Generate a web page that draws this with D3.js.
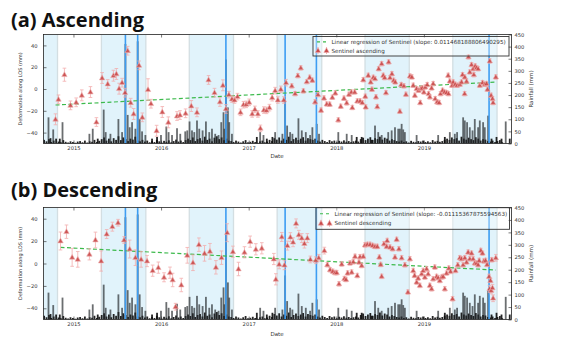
<!DOCTYPE html>
<html><head><meta charset="utf-8">
<script src="https://cdn.jsdelivr.net/npm/d3@7"></script>
<style>body{margin:0;background:#fff}svg{display:block}</style>
</head><body><svg id="c" width="573" height="338"></svg>
<script>
// ---------- data (time in decimal years) ----------
const yearTicks=[2015,2016,2017,2018,2019];
const leftTicks=[-40,-20,0,20,40];
const rightTicks=[0,50,100,150,200,250,300,350,400,450];
const wetSeasons=[[2014.33,2014.818],[2015.319,2015.826],[2016.322,2016.827],[2017.325,2017.834],[2018.328,2018.833],[2019.33,2019.835]];
const stormDates=[2015.593,2015.733,2016.740,2017.416,2017.773,2019.744];
// rainfall peaks [year, mm]
const rainPeaks=[[2014.715,108],[2014.738,22],[2014.769,58],[2014.844,20],[2014.875,88],[2015.182,40],[2015.220,61],[2015.277,20],
[2015.345,140],[2015.368,47],[2015.422,40],[2015.513,101],[2015.555,47],[2015.593,411],[2015.619,118],[2015.642,67],[2015.669,88],
[2015.707,61],[2015.733,422],[2015.756,101],[2015.783,50],[2015.821,35],[2015.897,20],[2015.954,27],[2015.999,35],[2016.060,70],
[2016.086,47],[2016.125,35],[2016.182,63],[2016.219,40],[2016.276,50],[2016.299,54],[2016.325,91],[2016.353,54],[2016.379,47],
[2016.410,95],[2016.436,61],[2016.474,54],[2016.512,91],[2016.550,47],[2016.581,61],[2016.618,40],[2016.656,35],[2016.687,88],
[2016.713,129],[2016.724,61],[2016.740,347],[2016.763,149],[2016.778,88],[2016.809,40],[2017.093,27],[2017.131,47],[2017.169,35],
[2017.207,20],[2017.271,27],[2017.302,47],[2017.385,40],[2017.416,177],[2017.439,74],[2017.473,47],[2017.499,40],[2017.568,104],
[2017.606,54],[2017.652,47],[2017.701,35],[2017.727,67],[2017.777,81],[2017.803,40],[2018.023,47],[2018.119,40],[2018.176,35],
[2018.233,27],[2018.290,27],[2018.404,15],[2018.442,74],[2018.479,47],[2018.518,35],[2018.593,47],[2018.632,54],[2018.670,67],
[2018.707,61],[2018.726,61],[2018.746,81],[2018.764,58],[2018.783,47],[2018.917,35],[2019.163,35],[2019.239,27],[2019.296,47],
[2019.353,40],[2019.379,47],[2019.448,108],[2019.467,95],[2019.493,88],[2019.524,67],[2019.555,54],[2019.581,101],[2019.619,67],
[2019.638,95],[2019.676,88],[2019.695,67],[2019.733,115],[2019.772,20],[2019.829,27],[2019.886,20],[2019.934,91],[2019.980,20]];
// background rainfall, one value every 10 days from rainBaseStart
const rainBaseStart=2014.665, rainBaseStepDays=10;
const rainBase=[15,9,18,6,12,20,8,5,14,7,4,9,
6,3,8,10,5,12,4,9,7,15,6,11,
18,25,12,20,9,22,15,30,14,25,18,10,20,16,28,12,9,15,
8,12,5,10,6,15,9,4,11,7,13,5,10,16,8,12,6,14,
20,14,25,10,18,22,12,28,15,20,9,24,30,18,25,14,20,12,
10,6,12,8,4,9,14,5,7,11,6,3,9,12,5,8,15,10,
22,16,25,12,20,15,28,10,18,24,14,20,26,12,22,18,15,20,
12,8,15,10,6,14,9,12,5,11,8,13,7,10,6,9,12,8,
18,24,14,20,26,15,22,18,28,16,24,20,12,18,14,10,8,12,
6,9,4,11,7,5,10,8,12,6,9,5,14,8,11,7,10,15,
20,15,25,18,22,12,28,20,16,24,18,14,26,20,12,18,16,10,
8,12,6,10,14,5];
// Sentinel ascending [year, LOS mm, error mm]
const ascData=[[2014.795,-27.8,5],[2014.829,-9.5,4],[2014.897,13.1,6],[2014.966,-15,4],[2015.031,-12.2,4],[2015.095,-5.8,5],[2015.194,-2.8,5],
[2015.262,-30.3,4],[2015.327,10.1,5],[2015.391,4.6,4],[2015.456,12.2,5],[2015.490,13.8,5],[2015.521,0.3,5],[2015.555,5.8,4],[2015.589,-3.4,4],
[2015.619,35.1,4],[2015.653,-12.6,4],[2015.687,-22.9,5],[2015.749,21.7,4],[2015.786,-26,4],[2015.851,-0.6,10],[2015.885,-13.5,4],
[2015.949,-38.3,5],[2016.014,-21.1,5],[2016.083,-30.6,5],[2016.182,-24.8,4],[2016.216,-23.9,4],[2016.280,-22.3,4],[2016.345,-15.6,5],
[2016.410,-21.4,4],[2016.542,8.3,4],[2016.610,-3.4,4],[2016.672,-11.9,4],[2016.706,3.4,5],[2016.740,-18.3,4],[2016.774,-5.2,3],
[2016.809,-9.2,3],[2016.838,-10.1,3],[2016.872,-7,3],[2016.907,-21.4,3],[2016.941,-14.4,3],[2016.972,-14.1,3],[2017.006,-12.2,3],
[2017.040,-22.9,3],[2017.071,-18.7,3],[2017.105,-22.9,3],[2017.134,-36.1,3],[2017.173,-19.3,3],[2017.203,-19.6,3],[2017.237,-17.1,3],
[2017.268,-8,3],[2017.302,-1.5,3],[2017.333,-10.1,3],[2017.367,-0.3,3],[2017.401,-10.1,3],[2017.427,5.8,3],
[2017.492,2.8,2],[2017.530,-4.3,2],[2017.561,12.2,2],[2017.595,19.3,2],[2017.624,-1.8,2],[2017.663,6.7,2],[2017.697,10.7,2],[2017.727,8,2],
[2017.758,-11.9,2],[2017.792,-5.2,2],[2017.826,-19.5,2],[2017.860,-8.3,2],[2017.891,-13.8,2],[2017.925,-14,2],[2017.955,-7.6,2],
[2017.989,-3.7,2],[2018.023,-28.4,2],[2018.051,-15.9,2],[2018.088,-8.5,2],[2018.119,-12.8,2],[2018.145,-4.9,2],[2018.172,-2.8,2],
[2018.183,-17,2],[2018.210,-2.8,2],[2018.240,-11,2],[2018.271,-11,2],[2018.297,-12.5,2],[2018.308,8.5,2],[2018.331,-6.7,2],[2018.336,-16.5,2],
[2018.365,12.5,2],[2018.393,6.4,2],[2018.407,-0.3,2],[2018.422,10.7,2],[2018.442,9.5,2],[2018.453,-7.3,2],[2018.468,-16.2,2],[2018.484,18.6,2],
[2018.518,23.2,2],[2018.536,12.5,2],[2018.552,10.4,2],[2018.567,-3.4,2],[2018.598,24.8,2],[2018.613,10.4,2],[2018.635,14,2],[2018.655,8,2],
[2018.673,6.4,2],[2018.726,-20.5,2],[2018.741,4,2],[2018.772,2.8,2],[2018.795,-4.9,2],[2018.840,11.9,2],[2018.863,11,2],[2018.878,3.4,2],
[2018.897,-5.8,2],[2018.917,0.3,2],[2018.940,-1.2,2],[2018.958,-12.5,2],[2018.965,0.3,2],[2018.981,0.9,2],[2019.000,-2.8,2],[2019.015,1.8,2],
[2019.038,4,2],[2019.054,-4.3,2],[2019.068,-7.3,2],[2019.088,0.9,2],[2019.106,4.9,2],[2019.129,-8.9,2],[2019.151,-11.9,2],[2019.174,-12.5,2],
[2019.190,-4.3,2],[2019.213,-1.2,2],[2019.236,-2.8,2],[2019.259,-3.4,2],[2019.277,12.5,2],[2019.281,-4.3,2],[2019.296,7.3,2],[2019.322,3.4,2],
[2019.334,6.4,2],[2019.357,4.3,2],[2019.379,3.4,2],[2019.410,4.3,2],[2019.430,6.4,2],[2019.441,13.1,2],[2019.465,-4.3,2],[2019.467,11,2],
[2019.487,7.1,2],[2019.509,29.4,2],[2019.524,15.6,2],[2019.544,22.3,2],[2019.562,18.6,2],[2019.570,13.1,2],[2019.585,21.1,2],[2019.601,19.5,2],
[2019.619,18.6,2],[2019.638,3.4,2],[2019.669,5.8,2],[2019.695,4.3,2],[2019.715,4.9,2],[2019.726,-0.3,2],[2019.752,25.7,2],[2019.767,-5.8,2],
[2019.783,-8.9,2],[2019.790,-12.5,2],[2019.821,11,2]];
// Sentinel descending [year, LOS mm, error mm]
const descData=[[2014.852,20.1,8],[2014.920,28.4,6],[2014.985,5.5,8],[2015.049,3.7,7],[2015.182,8.2,5],[2015.251,21,7],[2015.316,2.2,9],
[2015.379,26.3,4],[2015.444,32.9,4],[2015.509,36.4,3],[2015.578,21,3],[2015.642,12.9,8],[2015.707,5.2,7],[2015.772,3.7,7],[2015.840,2.2,5],
[2015.904,-6.4,5],[2015.969,-3.7,5],[2016.034,-12.3,4],[2016.102,-8.2,5],[2016.132,-14.7,6],[2016.166,-38.6,3],[2016.231,-19.2,6],
[2016.299,7.3,7],[2016.364,0.7,7],[2016.432,16.8,6],[2016.496,9.1,7],[2016.558,10.9,7],[2016.626,-3.4,6],[2016.690,5.2,6],[2016.755,27.5,8],
[2016.820,10.5,5],[2016.884,-4.9,6],[2016.952,10,5],[2017.017,19.5,5],[2017.082,12.7,5],[2017.150,13.6,5],[2017.287,4,5],[2017.310,-14.1,5],
[2017.348,-0.7,4],[2017.378,23.7,4],[2017.408,-1.5,4],[2017.442,16,4],[2017.476,23.5,4],[2017.507,19,4],[2017.541,35.8,4],[2017.572,25.6,4],
[2017.606,22.7,4],[2017.636,17.8,4],[2017.670,22.7,4],[2017.704,3.6,3],[2017.766,2.9,3],[2017.800,5.1,3],[2017.864,11.5,3],[2017.898,-1.1,2],
[2017.929,-5.6,2],[2017.960,-7,2],[2017.986,-8.2,2],[2018.005,-8.2,2],[2018.031,-18.2,2],[2018.062,-0.5,2],[2018.092,-13.5,2],[2018.111,-14.3,2],
[2018.130,-8.5,2],[2018.157,0.4,2],[2018.176,-7.7,2],[2018.194,1.5,2],[2018.214,6.3,2],[2018.240,-10.8,2],[2018.259,1.2,2],[2018.271,6,2],
[2018.290,-1.8,2],[2018.308,6.3,2],[2018.328,16.5,2],[2018.354,17,2],[2018.385,17,2],[2018.415,16.1,2],[2018.442,15.2,2],[2018.468,15.2,2],
[2018.491,5.7,2],[2018.507,-0.9,2],[2018.518,-11.5,2],[2018.544,17.6,2],[2018.575,15.2,2],[2018.581,20.5,2],[2018.613,14.6,2],[2018.643,13.1,2],
[2018.670,5.7,2],[2018.689,21.5,2],[2018.715,13.1,2],[2018.746,5.1,2],[2018.783,-1.2,2],[2018.818,-25.6,2],[2018.840,4.2,2],[2018.878,-6.3,2],
[2018.894,-10.7,2],[2018.917,-16.7,2],[2018.935,-13.1,2],[2018.954,-19.6,2],[2018.974,-9.2,2],[2018.992,-6.3,2],[2019.011,-12.2,2],
[2019.031,-4.8,2],[2019.049,-9.2,2],[2019.068,-19.6,2],[2019.088,-22.6,2],[2019.106,-13.7,2],[2019.125,-3.3,2],[2019.145,-11.6,2],
[2019.163,-12.8,2],[2019.182,-15.2,2],[2019.202,-12.2,2],[2019.220,-11.6,2],[2019.239,-22.6,2],[2019.259,-8.6,2],[2019.285,-4.2,2],
[2019.304,-7.1,2],[2019.327,-31.5,2],[2019.361,-6.3,2],[2019.387,-1.2,2],[2019.410,5.1,2],[2019.430,4.2,2],[2019.448,-1.2,2],[2019.467,5.1,2],
[2019.487,1.2,2],[2019.505,10.1,2],[2019.524,4.2,2],[2019.544,9.2,2],[2019.562,4.2,2],[2019.581,0.3,2],[2019.601,0.3,2],[2019.619,-1.2,2],
[2019.631,2.7,2],[2019.650,11.6,2],[2019.669,9.2,2],[2019.684,2.1,2],[2019.704,2.7,2],[2019.721,-0.9,2],[2019.744,-11.6,2],[2019.760,-15.2,2],
[2019.749,-22.6,3],[2019.767,-24.1,3],[2019.783,-21.7,3],[2019.790,-31,3],[2019.775,3.3,2],[2019.821,5.1,3]];
const ascSlope=0.011468188806490295, ascStartValue=-14.7;
const descSlope=-0.01115367875594563, descStartValue=14.4;
const ascSlopeLabel="0.011468188806490295", descSlopeLabel="-0.01115367875594563";

// ---------- drawing ----------
const svg=d3.select("#c");
const X0=43.5,X1=511.5;
const x=d3.scaleLinear().domain([2014.658,2020.0]).range([X0,X1]);
const rainAll=rainBase.map((v,i)=>[rainBaseStart+i*rainBaseStepDays/365.25,v]).concat(rainPeaks);
const FONT="DejaVu Sans, sans-serif";
const tri="M0,-2.9L2.7,1.9L-2.7,1.9Z";

const panels=[
 {id:"a",title:"(a) Ascending",titleY:26.5,top:34.5,bottom:143.5,data:ascData,slope:ascSlope,start:ascStartValue,
  slopeLabel:ascSlopeLabel,name:"Sentinel ascending",lg:{x:313,y:36.5,w:196,h:19.5},dateY:158},
 {id:"b",title:"(b) Descending",titleY:196.5,top:207.5,bottom:319.5,data:descData,slope:descSlope,start:descStartValue,
  slopeLabel:descSlopeLabel,name:"Sentinel descending",lg:{x:316,y:207.7,w:193.5,h:21.6},dateY:335.5}
];

panels.forEach(p=>{
  const yL=d3.scaleLinear().domain([-50,50]).range([p.bottom,p.top]);
  const yR=d3.scaleLinear().domain([0,450]).range([p.bottom,p.top]);
  const g=svg.append("g");
  svg.append("clipPath").attr("id","clip"+p.id).append("rect")
    .attr("x",X0).attr("y",p.top).attr("width",X1-X0).attr("height",p.bottom-p.top);
  const pg=g.append("g").attr("clip-path",`url(#clip${p.id})`);

  // wet season bands
  pg.selectAll(".band").data(wetSeasons).join("rect")
    .attr("x",d=>x(d[0])).attr("width",d=>x(d[1])-x(d[0]))
    .attr("y",p.top).attr("height",p.bottom-p.top).attr("fill","#e1f3fb");
  pg.selectAll(".bedge").data(wetSeasons.flat()).join("line")
    .attr("x1",d=>x(d)).attr("x2",d=>x(d)).attr("y1",p.top).attr("y2",p.bottom)
    .attr("stroke","#d3dee2").attr("stroke-width",1.3);

  // rainfall bars
  pg.selectAll(".bar").data(rainAll).join("rect")
    .attr("x",d=>x(d[0])-0.9).attr("width",1.8)
    .attr("y",d=>yR(d[1])).attr("height",d=>yR(0)-yR(d[1]))
    .attr("fill",d=>d[1]>30?"#25292c":"#0c0c0c").attr("opacity",d=>d[1]>30?0.68:0.9);

  // storm lines
  pg.selectAll(".storm").data(stormDates).join("line")
    .attr("x1",d=>x(d)).attr("x2",d=>x(d)).attr("y1",p.top).attr("y2",p.bottom)
    .attr("stroke","#3d9df2").attr("stroke-width",1.6);

  // regression
  const d0=p.data[0][0], d1=p.data[p.data.length-1][0];
  const reg=[d0,d1].map(t=>[t,p.start+p.slope*(t-d0)*365.25]);
  pg.append("path").attr("d",d3.line().x(d=>x(d[0])).y(d=>yL(d[1]))(reg))
    .attr("stroke","#3cba4c").attr("stroke-width",1.2).attr("stroke-dasharray","4,2.5").attr("fill","none");

  // error bars
  const eb=pg.append("g").attr("stroke","#f3aaaa").attr("stroke-width",0.9).attr("opacity",0.85);
  p.data.forEach(d=>{
    const xx=x(d[0]);
    eb.append("line").attr("x1",xx).attr("x2",xx).attr("y1",yL(d[1]-d[2])).attr("y2",yL(d[1]+d[2]));
    [d[1]-d[2],d[1]+d[2]].forEach(v=>eb.append("line").attr("x1",xx-1.8).attr("x2",xx+1.8).attr("y1",yL(v)).attr("y2",yL(v)));
  });
  // markers
  pg.selectAll(".pt").data(p.data).join("path").attr("d",tri)
    .attr("transform",d=>`translate(${x(d[0])},${yL(d[1])})`)
    .attr("fill","#c94848").attr("fill-opacity",0.9).attr("stroke","#eeb2b2").attr("stroke-width",0.6);

  // frame
  g.append("rect").attr("x",X0).attr("y",p.top).attr("width",X1-X0).attr("height",p.bottom-p.top)
    .attr("fill","none").attr("stroke","#222").attr("stroke-width",0.8);

  // axes
  const styleAxis=sel=>{sel.select(".domain").remove();sel.selectAll("line").attr("stroke","#222").attr("stroke-width",0.6);
    sel.selectAll("text").attr("font-family",FONT).attr("font-size",5.2).attr("fill","#333");};
  g.append("g").attr("transform",`translate(0,${p.bottom})`)
    .call(d3.axisBottom(x).tickValues(yearTicks).tickFormat(d3.format("d")).tickSize(-3).tickPadding(3)).call(styleAxis);
  g.append("g").attr("transform",`translate(0,${p.top})`)
    .call(d3.axisTop(x).tickValues(yearTicks).tickFormat("").tickSize(-3)).call(styleAxis);
  g.append("g").attr("transform",`translate(${X0},0)`)
    .call(d3.axisLeft(yL).tickValues(leftTicks).tickSize(-3).tickPadding(6)).call(styleAxis);
  g.append("g").attr("transform",`translate(${X1},0)`)
    .call(d3.axisRight(yR).tickValues(rightTicks).tickSize(-3).tickPadding(3)).call(styleAxis);

  // axis labels
  const mid=(p.top+p.bottom)/2;
  g.append("text").attr("transform",`translate(21.5,${mid}) rotate(-90)`).attr("text-anchor","middle")
    .attr("font-family",FONT).attr("font-size",5).attr("fill","#333").text("Deformation along LOS (mm)");
  g.append("text").attr("transform",`translate(532.5,${mid}) rotate(-90)`).attr("text-anchor","middle")
    .attr("font-family",FONT).attr("font-size",5.5).attr("fill","#333").text("Rainfall (mm)");
  g.append("text").attr("x",277).attr("y",p.dateY).attr("text-anchor","middle")
    .attr("font-family",FONT).attr("font-size",5.5).attr("fill","#333").text("Date");

  // title
  svg.append("text").attr("x",11).attr("y",p.titleY).attr("font-family","Open Sans, sans-serif")
    .attr("font-weight",700).attr("font-size",20).attr("fill","#111").text(p.title);

  // legend
  const L=p.lg, lgG=g.append("g");
  lgG.append("rect").attr("x",L.x).attr("y",L.y).attr("width",L.w).attr("height",L.h)
    .attr("fill","#fff").attr("fill-opacity",0.35).attr("stroke","#333").attr("stroke-width",0.9);
  const r1=L.y+L.h*0.28, r2=L.y+L.h*0.72;
  lgG.append("line").attr("x1",L.x+4).attr("x2",L.x+15).attr("y1",r1).attr("y2",r1)
    .attr("stroke","#3cba4c").attr("stroke-width",1.2).attr("stroke-dasharray","3,3");
  [L.x+5,L.x+13.5].forEach(mx=>{
    lgG.append("line").attr("x1",mx).attr("x2",mx).attr("y1",r2-3.5).attr("y2",r2+3.5).attr("stroke","#f3aaaa").attr("stroke-width",0.9);
    lgG.append("path").attr("d",tri).attr("transform",`translate(${mx},${r2})`).attr("fill","#c94848").attr("stroke","#eeb2b2").attr("stroke-width",0.6);
  });
  lgG.append("text").attr("x",L.x+18.5).attr("y",r1+2).attr("font-family",FONT).attr("font-size",5.6).attr("fill","#333")
    .text(`Linear regression of Sentinel (slope: ${p.slopeLabel})`);
  lgG.append("text").attr("x",L.x+18.5).attr("y",r2+2).attr("font-family",FONT).attr("font-size",5.6).attr("fill","#333")
    .text(p.name);
});
</script></body></html>
